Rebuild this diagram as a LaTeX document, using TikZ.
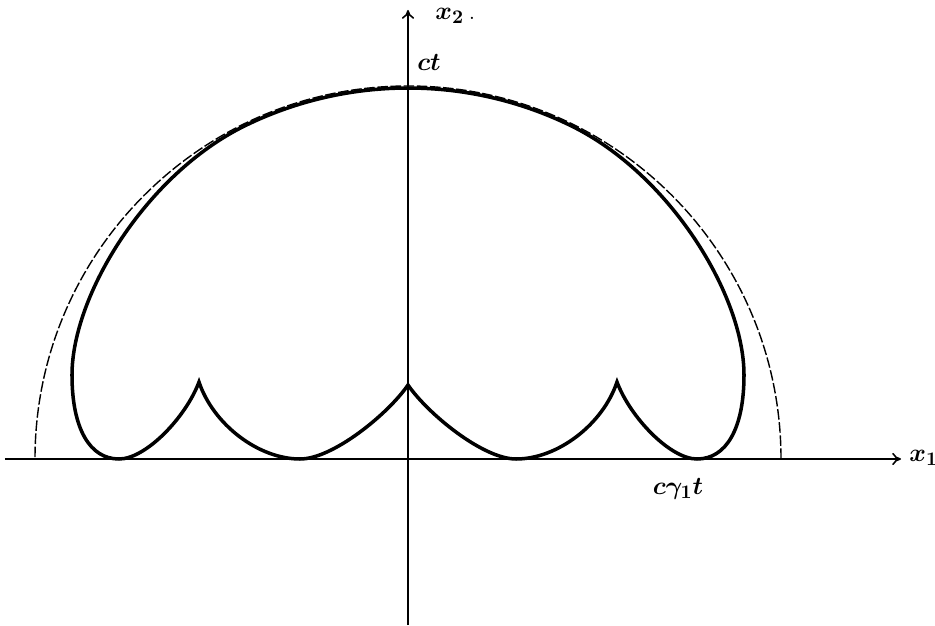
\documentclass[tikz,border=0pt]{standalone}
\usepackage{amsmath,amssymb,bm}
\usepackage{tikz}
\usetikzlibrary{arrows.meta,positioning}

\begin{document}
\begin{tikzpicture}[
  x=0.02cm, y=0.02cm,
  axis/.style={line width=0.9pt, -{To[length=5pt,width=7pt]}},
  circ/.style={line width=0.8pt, dash pattern=on 6pt off 1.5pt},
  front/.style={line width=2pt, line join=miter, miter limit=25},
  lbl/.style={inner sep=0pt, font=\fontsize{15.5}{18}\selectfont}
]
  \useasboundingbox (-408,-166) rectangle (527,459);

  \coordinate (O) at (0,0);
  \coordinate (xl) at (-403,0);
  \coordinate (xr) at (493,0);
  \coordinate (yb) at (0,-166);
  \coordinate (yt) at (0,449);

  % axes
  \draw[axis] (xl) -- (xr);
  \draw[axis] (yb) -- (yt);

  % circle of radius ct
  \draw[circ] (373,0) arc[start angle=0, end angle=180, radius=373];

  % wave front
  \coordinate (cl) at (-209,77);
  \coordinate (cm) at (0,74);
  \coordinate (cr) at (209,77);
  \draw[front] (cl) .. controls (-222,42) and (-262,0) .. (-289,0)
    .. controls (-318,0) and (-336,30) .. (-336,84)
    .. controls (-336,164) and (-261.5,285.2) .. (116:371)
    arc[start angle=116, end angle=64, radius=371]
    .. controls (261.5,285.2) and (336,164) .. (336,84)
    .. controls (336,30) and (318,0) .. (289,0)
    .. controls (262,0) and (222,42) .. (cr)
    .. controls (195,35) and (150,0) .. (108,0)
    .. controls (75,0) and (20,45) .. (cm)
    .. controls (-20,45) and (-75,0) .. (-108,0)
    .. controls (-150,0) and (-195,35) .. cycle;

  % labels
  \node[lbl, anchor=west] (x2) at (27,443) {$\bm{x_2}$\,.};
  \node[lbl] (ct) at (21,397) {$\bm{ct}$};
  \node[lbl, anchor=west] (x1) at (501,1) {$\bm{x_1}$};
  \node[lbl] (cgt) at (270,-30) {$\bm{c\gamma_1 t}$};
\end{tikzpicture}
\end{document}
